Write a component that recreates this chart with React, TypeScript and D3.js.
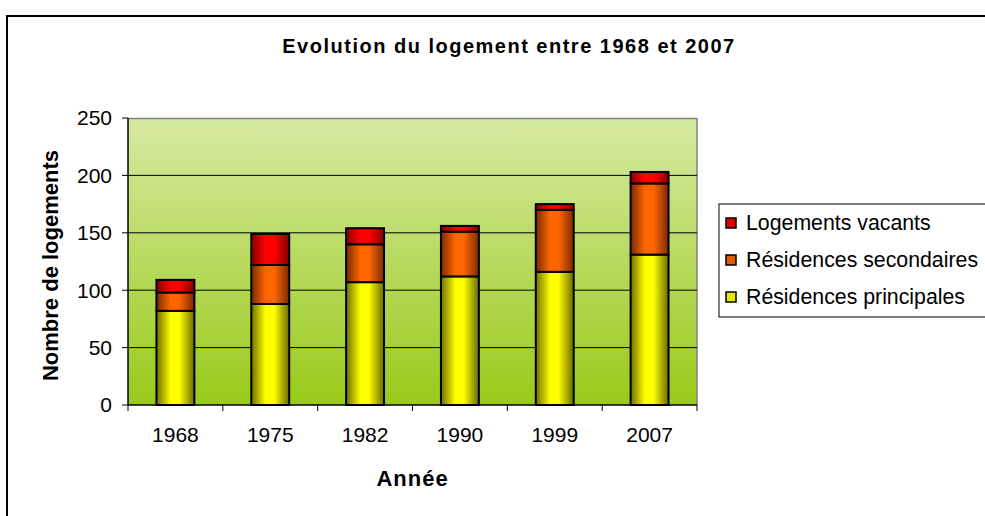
import React from 'react';
import * as d3 from 'd3';

const years = ['1968', '1975', '1982', '1990', '1999', '2007'];
const principales = [82, 88, 107, 112, 116, 131];
const secondaires = [16, 34, 33, 39, 54, 62];
const vacants = [11, 27, 14, 5, 5, 10];
const yTicks = [0, 50, 100, 150, 200, 250];

const seriesKeys = ['principales', 'secondaires', 'vacants'];
const legendLabels = ['Logements vacants', 'Résidences secondaires', 'Résidences principales'];

const FONT = "Arial, 'Liberation Sans', sans-serif";

export default function App() {
  const width = 985;
  const height = 516;
  const plot = { left: 128, right: 697, top: 118, bottom: 405 };

  const x = d3.scaleBand()
    .domain(years)
    .range([plot.left, plot.right])
    .paddingInner(0.6)
    .paddingOuter(0.3);

  const y = d3.scaleLinear()
    .domain([0, 250])
    .range([plot.bottom, plot.top]);

  const rows = years.map((yr, i) => ({
    year: yr,
    principales: principales[i],
    secondaires: secondaires[i],
    vacants: vacants[i],
  }));

  const stacked = d3.stack<any>().keys(seriesKeys)(rows);

  const fills: Record<string, string> = {
    principales: 'url(#gYellow)',
    secondaires: 'url(#gOrange)',
    vacants: 'url(#gRed)',
  };
  const legendFill = ['#e00000', '#e05c00', '#e6e600'];

  // boundaries between categories for x ticks
  const step = x.step();
  const boundaries = d3.range(years.length + 1).map(i => plot.left + i * step);

  return (
    <svg
      width={width}
      height={height}
      style={{ position: 'absolute', left: 0, top: 0, background: '#fff' }}
      fontFamily={FONT}
    >
      <defs>
        <linearGradient id="bg" x1="0" y1="0" x2="0" y2="1">
          <stop offset="0%" stopColor="#d7e9a3" />
          <stop offset="100%" stopColor="#99ca1a" />
        </linearGradient>
        <linearGradient id="gYellow" x1="0" y1="0" x2="1" y2="0">
          <stop offset="0%" stopColor="#6e6e00" />
          <stop offset="38%" stopColor="#ffff00" />
          <stop offset="60%" stopColor="#ffff00" />
          <stop offset="100%" stopColor="#6a6a00" />
        </linearGradient>
        <linearGradient id="gOrange" x1="0" y1="0" x2="1" y2="0">
          <stop offset="0%" stopColor="#7a2a00" />
          <stop offset="38%" stopColor="#ff6600" />
          <stop offset="60%" stopColor="#ff6600" />
          <stop offset="100%" stopColor="#7a2a00" />
        </linearGradient>
        <linearGradient id="gRed" x1="0" y1="0" x2="1" y2="0">
          <stop offset="0%" stopColor="#850000" />
          <stop offset="38%" stopColor="#ff0000" />
          <stop offset="60%" stopColor="#ff0000" />
          <stop offset="100%" stopColor="#850000" />
        </linearGradient>
      </defs>

      {/* outer chart frame */}
      <rect x={7} y={16} width={1000} height={520} fill="#fff" stroke="#000" strokeWidth={2} />

      {/* title */}
      <text x={509} y={53} textAnchor="middle" fontSize={20} fontWeight="bold" letterSpacing={1.5}>
        Evolution du logement entre 1968 et 2007
      </text>

      {/* plot background */}
      <rect
        x={plot.left}
        y={plot.top}
        width={plot.right - plot.left}
        height={plot.bottom - plot.top}
        fill="url(#bg)"
      />
      <line x1={plot.left} x2={plot.right} y1={plot.top + 0.5} y2={plot.top + 0.5} stroke="#808080" strokeWidth={1.5} />
      <line x1={plot.right} x2={plot.right} y1={plot.top} y2={plot.bottom} stroke="#808080" strokeWidth={1.5} />

      {/* gridlines */}
      {yTicks.filter(t => t > 0 && t < 250).map(t => (
        <line key={t} x1={plot.left} x2={plot.right} y1={y(t)} y2={y(t)} stroke="#000" strokeWidth={1} />
      ))}

      {/* bars */}
      {stacked.map(layer => (
        <g key={layer.key}>
          {layer.map((d, i) => (
            <rect
              key={i}
              x={x(years[i])}
              y={y(d[1])}
              width={x.bandwidth()}
              height={y(d[0]) - y(d[1])}
              fill={fills[layer.key]}
              stroke="#000"
              strokeWidth={2}
            />
          ))}
        </g>
      ))}

      {/* y axis */}
      <line x1={plot.left} x2={plot.left} y1={plot.top} y2={plot.bottom} stroke="#000" strokeWidth={1.5} />
      {yTicks.map(t => (
        <g key={t}>
          <line x1={plot.left - 6} x2={plot.left} y1={y(t)} y2={y(t)} stroke="#000" strokeWidth={1} />
          <text x={plot.left - 16} y={y(t)} dy="0.35em" textAnchor="end" fontSize={21}>
            {t}
          </text>
        </g>
      ))}

      {/* x axis */}
      <line x1={plot.left} x2={plot.right} y1={plot.bottom} y2={plot.bottom} stroke="#000" strokeWidth={1.5} />
      {boundaries.map((bx, i) => (
        <line key={i} x1={bx} x2={bx} y1={plot.bottom} y2={plot.bottom + 6} stroke="#000" strokeWidth={1} />
      ))}
      {years.map(yr => (
        <text key={yr} x={x(yr)! + x.bandwidth() / 2} y={435} dy="0.35em" textAnchor="middle" fontSize={21}>
          {yr}
        </text>
      ))}

      {/* axis titles */}
      <text x={(plot.left + plot.right) / 2} y={478} dy="0.35em" textAnchor="middle" fontSize={22} fontWeight="bold" letterSpacing={1}>
        Année
      </text>
      <text
        transform={`translate(50,${(plot.top + plot.bottom) / 2 + 4}) rotate(-90)`}
        dy="0.35em"
        textAnchor="middle"
        fontSize={22}
        fontWeight="bold"
      >
        Nombre de logements
      </text>

      {/* legend */}
      <rect x={719} y={204} width={300} height={113} fill="#fff" stroke="#000" strokeWidth={1} />
      {legendLabels.map((label, i) => (
        <g key={label} transform={`translate(726,${223 + i * 37})`}>
          <rect x={0} y={-5} width={10} height={10} fill={legendFill[i]} stroke="#000" strokeWidth={1.5} />
          <text x={20} y={0} dy="0.35em" fontSize={21.3}>
            {label}
          </text>
        </g>
      ))}
    </svg>
  );
}
